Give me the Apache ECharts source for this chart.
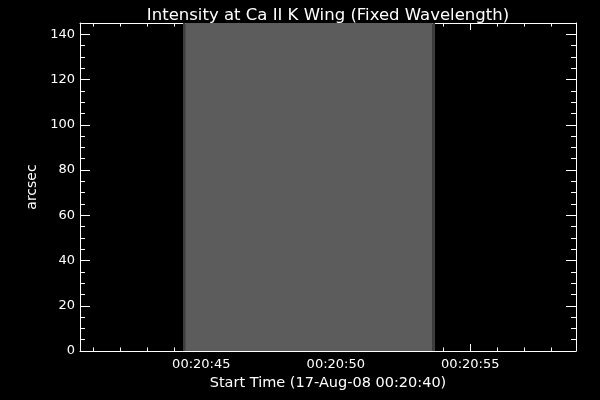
<!DOCTYPE html>
<html>
<head>
<meta charset="utf-8">
<script src="https://cdn.jsdelivr.net/npm/echarts@6/dist/echarts.min.js"></script>
<style>html,body{margin:0;padding:0;background:#000;}#c{width:600px;height:400px;}</style>
</head>
<body>
<div id="c"></div>
<script>
// Time in seconds since start time 17-Aug-08 00:20:40
var startLabelPrefix = '00:20:';
var startSecond = 40;
var xRange = [0.49, 18.93];
var yRange = [0, 145];
// Image columns (scan positions): start time, end time, intensity (grey level 0-255)
var colStart = [4.32, 4.40, 13.60];
var colEnd   = [4.40, 13.60, 13.69];
var colValue = [62, 92, 62];
var slitBottom = [0, 0, 0];
var slitTop = [145, 145, 145];

var data = colStart.map(function (s, i) { return [s, colEnd[i], slitBottom[i], slitTop[i], colValue[i]]; });

var FONT = 'DejaVu Sans';
var chart = echarts.init(document.getElementById('c'));
function fmtTime(v) {
  var s = Math.round(startSecond + v);
  return startLabelPrefix + (s < 10 ? '0' : '') + s;
}
function xAx(pos, minor, show) {
  return {
    type: 'value', position: pos, min: xRange[0], max: xRange[1],
    splitNumber: minor ? 15 : 4,
    axisLine: { show: !minor, onZero: false, lineStyle: { color: '#fff', width: 1 } },
    axisTick: { show: true, inside: true, length: minor ? 3.5 : 7, lineStyle: { color: '#fff', width: 1 } },
    axisLabel: { show: show, color: '#fff', fontFamily: FONT, fontSize: 13, margin: 7,
      showMinLabel: false, showMaxLabel: false, formatter: fmtTime },
    splitLine: { show: false },
    name: show ? 'Start Time (17-Aug-08 00:20:40)' : '',
    nameLocation: 'middle', nameGap: 22,
    nameTextStyle: { color: '#fff', fontFamily: FONT, fontSize: 14.5 }
  };
}
function yAx(pos, minor, show) {
  return {
    type: 'value', position: pos, min: yRange[0], max: yRange[1],
    interval: minor ? 5 : 20,
    axisLine: { show: !minor, onZero: false, lineStyle: { color: '#fff', width: 1 } },
    axisTick: { show: true, inside: true, length: minor ? 5 : 10, lineStyle: { color: '#fff', width: 1 } },
    axisLabel: { show: show, color: '#fff', fontFamily: FONT, fontSize: 13, margin: 5,
      showMaxLabel: false },
    splitLine: { show: false },
    name: show ? 'arcsec' : '',
    nameLocation: 'middle', nameGap: 40,
    nameTextStyle: { color: '#fff', fontFamily: FONT, fontSize: 14 }
  };
}
chart.setOption({
  backgroundColor: '#000',
  animation: false,
  title: {
    text: 'Intensity at Ca II K Wing (Fixed Wavelength)',
    left: 323, top: 2, textAlign: 'center',
    textStyle: { color: '#fff', fontFamily: FONT, fontSize: 16.5, fontWeight: 'normal' }
  },
  grid: { left: 80, right: 24, top: 23, bottom: 49, containLabel: false },
  xAxis: [xAx('bottom', false, true), xAx('bottom', true, false), xAx('top', false, false), xAx('top', true, false)],
  yAxis: [yAx('left', false, true), yAx('left', true, false), yAx('right', false, false), yAx('right', true, false)],
  series: [{
    type: 'custom',
    xAxisIndex: 0, yAxisIndex: 0,
    clip: true,
    z: 1,
    renderItem: function (params, api) {
      var p0 = api.coord([api.value(0), api.value(3)]);
      var p1 = api.coord([api.value(1), api.value(2)]);
      var g = api.value(4);
      return {
        type: 'rect',
        shape: { x: p0[0], y: p0[1], width: p1[0] - p0[0], height: p1[1] - p0[1] },
        style: { fill: 'rgb(' + g + ',' + g + ',' + g + ')' }
      };
    },
    encode: { x: [0, 1], y: [2, 3] },
    data: data
  }]
});
</script>
</body>
</html>
